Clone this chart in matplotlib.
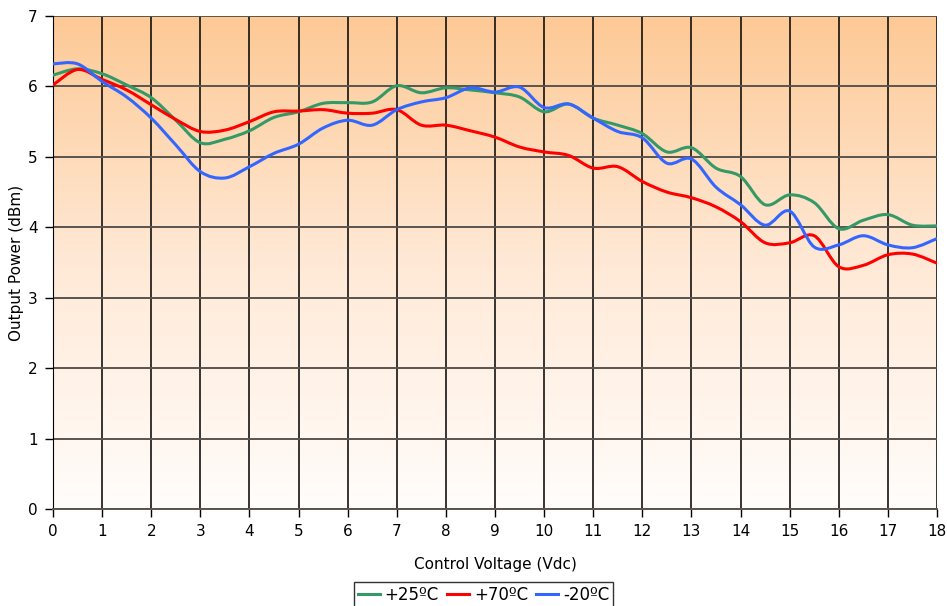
import numpy as np
import matplotlib
matplotlib.use("Agg")
import matplotlib.pyplot as plt
from matplotlib.path import Path
from matplotlib.patches import PathPatch
from matplotlib.lines import Line2D
from matplotlib.colors import LinearSegmentedColormap

# Data
voltage = [0, 0.5, 1, 1.5, 2, 2.5, 3, 3.5, 4, 4.5, 5, 5.5, 6, 6.5, 7, 7.5, 8, 8.5, 9,
           9.5, 10, 10.5, 11, 11.5, 12, 12.5, 13, 13.5, 14, 14.5, 15, 15.5, 16, 16.5,
           17, 17.5, 18]
p25 = [6.16, 6.25, 6.18, 6.02, 5.84, 5.52, 5.20, 5.25, 5.37, 5.56, 5.64, 5.76, 5.77,
       5.78, 6.01, 5.91, 5.98, 5.95, 5.91, 5.85, 5.64, 5.75, 5.55, 5.45, 5.33, 5.07,
       5.13, 4.84, 4.72, 4.32, 4.46, 4.35, 3.98, 4.10, 4.18, 4.03, 4.02]
p70 = [6.02, 6.24, 6.10, 5.95, 5.74, 5.53, 5.36, 5.38, 5.50, 5.64, 5.65, 5.67, 5.62,
       5.62, 5.67, 5.45, 5.45, 5.37, 5.28, 5.14, 5.07, 5.02, 4.84, 4.86, 4.65, 4.50,
       4.42, 4.29, 4.08, 3.78, 3.78, 3.88, 3.44, 3.46, 3.61, 3.62, 3.49]
m20 = [6.32, 6.32, 6.07, 5.85, 5.55, 5.17, 4.79, 4.70, 4.86, 5.05, 5.18, 5.41, 5.52,
       5.45, 5.67, 5.78, 5.84, 5.98, 5.92, 5.99, 5.70, 5.75, 5.55, 5.36, 5.27, 4.91,
       4.97, 4.57, 4.32, 4.03, 4.23, 3.72, 3.75, 3.88, 3.75, 3.71, 3.84]
series_labels = ["+25ºC", "+70ºC", "-20ºC"]
series_colors = ["#339966", "#FF0000", "#3366FF"]
x_ticks = list(range(0, 19))
y_ticks = list(range(0, 8))


def smooth_path(x, y, tension=1.0 / 6):
    """Excel-style smoothed line as cubic Bezier segments through the data points."""
    x = np.asarray(x, float)
    y = np.asarray(y, float)
    n = len(x)
    verts = [(x[0], y[0])]
    codes = [Path.MOVETO]
    for i in range(n - 1):
        p0 = np.array([x[max(i - 1, 0)], y[max(i - 1, 0)]])
        p1 = np.array([x[i], y[i]])
        p2 = np.array([x[i + 1], y[i + 1]])
        p3 = np.array([x[min(i + 2, n - 1)], y[min(i + 2, n - 1)]])
        c1 = p1 + (p2 - p0) * tension
        c2 = p2 - (p3 - p1) * tension
        verts += [tuple(c1), tuple(c2), tuple(p2)]
        codes += [Path.CURVE4, Path.CURVE4, Path.CURVE4]
    return Path(verts, codes)


plt.rcParams['font.family'] = ['DejaVu Sans']
fig = plt.figure(figsize=(9.47, 6.06), dpi=100)
ax = fig.add_axes([53 / 947, 1 - 509 / 606, (937 - 53) / 947, (509 - 16) / 606])

ax.set_xlim(0, 18)
ax.set_ylim(0, 7)

# gradient background
cmap = LinearSegmentedColormap.from_list("bg", ["#FFFDFB", "#FFE9D6", "#FDC995"])
grad = np.linspace(0, 1, 256).reshape(-1, 1)
ax.imshow(grad, cmap=cmap, aspect="auto", extent=[0, 18, 0, 7], origin="lower",
          zorder=0, interpolation="bilinear")

# grid
for xv in x_ticks:
    ax.axvline(xv, color="#000000", lw=1.1, zorder=1)
for yv in y_ticks:
    ax.axhline(yv, color="#5a534e", lw=1.4, zorder=1)

for vals, c in zip([p25, p70, m20], series_colors):
    patch = PathPatch(smooth_path(voltage, vals), facecolor="none", edgecolor=c,
                      lw=2.2, zorder=3, capstyle="round", joinstyle="round")
    ax.add_patch(patch)

ax.set_xticks(x_ticks)
ax.set_yticks(y_ticks)
ax.tick_params(axis="both", direction="out", length=6, width=1, labelsize=11,
               colors="black", pad=5)
for s in ["top", "right"]:
    ax.spines[s].set_visible(False)
ax.spines["left"].set_color("black")
ax.spines["bottom"].set_color("#5a534e")
ax.spines["bottom"].set_linewidth(1.4)

ax.set_xlabel("Control Voltage (Vdc)", fontsize=11, labelpad=13)
ax.set_ylabel("Output Power (dBm)", fontsize=11, labelpad=3)

handles = [Line2D([0], [0], color=c, lw=2.2) for c in series_colors]
leg = fig.legend(handles, series_labels, loc="upper center",
                 bbox_to_anchor=(483.5 / 947, 1 - 582 / 606), ncol=3, fontsize=12,
                 frameon=True, fancybox=False, handlelength=1.3, handletextpad=0.3,
                 columnspacing=0.5, borderpad=0.25, borderaxespad=0)
leg.get_frame().set_edgecolor("black")
leg.get_frame().set_linewidth(1.0)

fig.savefig("out.png", dpi=100)
